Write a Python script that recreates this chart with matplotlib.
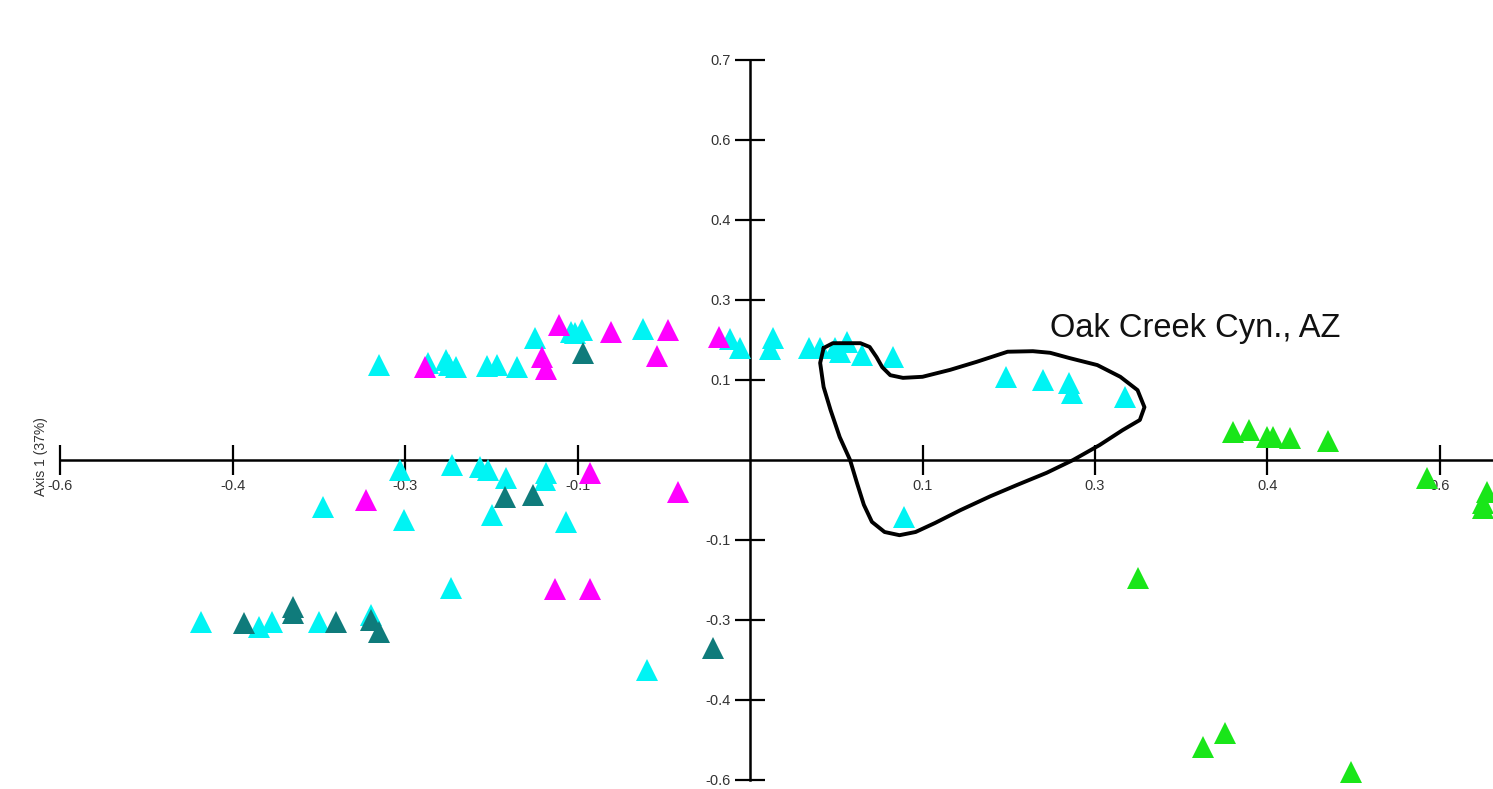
import matplotlib
matplotlib.use("Agg")
import matplotlib.pyplot as plt

plt.rcParams['font.family'] = ['Liberation Sans', 'DejaVu Sans']

# tick positions (0.15 steps) and their printed labels
x_ticks = [-0.6, -0.45, -0.3, -0.15, 0.15, 0.3, 0.45, 0.6]
x_labels = ['-0.6', '-0.4', '-0.3', '-0.1', '0.1', '0.3', '0.4', '0.6']
y_ticks = [-0.6, -0.45, -0.3, -0.15, 0.15, 0.3, 0.45, 0.6, 0.75]
y_labels = ['-0.6', '-0.4', '-0.3', '-0.1', '0.1', '0.3', '0.4', '0.6', '0.7']

# groups of samples
cyan_x = [-0.323, -0.280, -0.264, -0.262, -0.256, -0.229, -0.220, -0.203, -0.187,
          -0.156, -0.152, -0.146, -0.093, -0.017, -0.009, 0.020, 0.017, 0.051,
          0.061, 0.074, 0.084, 0.078, 0.097, 0.124, 0.223, 0.255, 0.277, 0.280,
          0.326, 0.134,
          -0.304, -0.259, -0.235, -0.228, -0.212, -0.177, -0.178, -0.371, -0.301,
          -0.224, -0.160, -0.260, -0.477, -0.427, -0.416, -0.375, -0.330, -0.090]
cyan_y = [0.178, 0.182, 0.188, 0.178, 0.174, 0.176, 0.178, 0.174, 0.229,
          0.240, 0.238, 0.244, 0.246, 0.227, 0.210, 0.229, 0.208, 0.210,
          0.210, 0.210, 0.221, 0.203, 0.197, 0.193, 0.156, 0.150, 0.144, 0.126,
          0.118, -0.107,
          -0.019, -0.009, -0.013, -0.019, -0.034, -0.024, -0.038, -0.088, -0.113,
          -0.103, -0.116, -0.240, -0.304, -0.313, -0.304, -0.304, -0.291, -0.394]

magenta_x = [-0.283, -0.181, -0.177, -0.166, -0.121, -0.071, -0.081, -0.027,
             -0.334, -0.139, -0.063, -0.170, -0.139]
magenta_y = [0.174, 0.193, 0.171, 0.253, 0.240, 0.244, 0.195, 0.231,
             -0.075, -0.024, -0.060, -0.242, -0.242]

teal_x = [-0.145, -0.213, -0.189, -0.440, -0.397, -0.397, -0.360, -0.330, -0.323, -0.032]
teal_y = [0.201, -0.069, -0.066, -0.306, -0.276, -0.287, -0.304, -0.300, -0.323, -0.353]

green_x = [0.420, 0.434, 0.450, 0.455, 0.470, 0.503, 0.589, 0.641, 0.637, 0.637,
           0.337, 0.394, 0.413, 0.523]
green_y = [0.053, 0.056, 0.043, 0.043, 0.041, 0.036, -0.034, -0.060, -0.081, -0.090,
           -0.221, -0.538, -0.512, -0.585]

# hand-drawn outline around the Oak Creek samples
loop_x = [0.064, 0.072, 0.096, 0.104, 0.110, 0.115, 0.122, 0.133, 0.150, 0.174,
          0.197, 0.224, 0.246, 0.261, 0.278, 0.302, 0.322, 0.337, 0.343, 0.339,
          0.324, 0.304, 0.281, 0.258, 0.232, 0.209, 0.183, 0.161, 0.144, 0.130,
          0.117, 0.106, 0.099, 0.093, 0.087, 0.078, 0.070, 0.064, 0.061, 0.064]
loop_y = [0.210, 0.219, 0.219, 0.212, 0.193, 0.174, 0.159, 0.154, 0.156, 0.169,
          0.184, 0.203, 0.204, 0.201, 0.191, 0.178, 0.156, 0.131, 0.099, 0.075,
          0.056, 0.028, 0.000, -0.024, -0.047, -0.068, -0.094, -0.118, -0.135, -0.141,
          -0.135, -0.116, -0.084, -0.043, 0.000, 0.043, 0.094, 0.137, 0.182, 0.210]

fig = plt.figure(figsize=(14.93, 7.89), dpi=100)
ax = fig.add_axes([0, 0, 1, 1])
ax.set_xlim(-0.6522, 0.6461)
ax.set_ylim(-0.6169, 0.8625)

ms = 16
ax.plot(cyan_x, cyan_y, '^', color='#00f4f4', ms=ms, mew=0, zorder=3)
ax.plot(magenta_x, magenta_y, '^', color='#ff00ff', ms=ms, mew=0, zorder=4)
ax.plot(teal_x, teal_y, '^', color='#0f7b7b', ms=ms, mew=0, zorder=5)
ax.plot(green_x, green_y, '^', color='#19e619', ms=ms, mew=0, zorder=5)

ax.plot(loop_x, loop_y, color='black', lw=2.8, solid_joinstyle='round',
        solid_capstyle='round', zorder=6)

ax.text(0.261, 0.2306, 'Oak Creek Cyn., AZ', fontsize=23.5, color='#111111',
        ha='left', va='baseline')
ax.text(-0.6165, 0.0056, 'Axis 1 (37%)', fontsize=10, color='#333333',
        rotation=90, ha='center', va='center')

for s in ['top', 'right']:
    ax.spines[s].set_visible(False)
ax.spines['left'].set_position(('data', 0))
ax.spines['bottom'].set_position(('data', 0))
ax.spines['left'].set_bounds(-0.6, 0.75)
ax.spines['bottom'].set_bounds(-0.6, 0.7)
for s in ['left', 'bottom']:
    ax.spines[s].set_linewidth(1.8)
    ax.spines[s].set_zorder(2)

ax.set_xticks(x_ticks)
ax.set_xticklabels(x_labels)
ax.set_yticks(y_ticks)
ax.set_yticklabels(y_labels)
ax.tick_params(direction='inout', length=21.6, width=1.6, pad=3,
               labelsize=10.5, labelcolor='#333333')
ax.patch.set_visible(False)

fig.savefig('out.png', dpi=100)
